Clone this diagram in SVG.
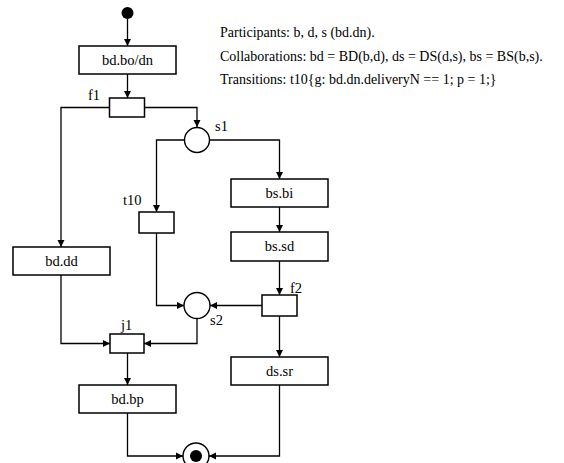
<svg xmlns="http://www.w3.org/2000/svg" width="564" height="463" viewBox="0 0 564 463">
<style>
  .box{fill:#fff;stroke:#000;stroke-width:1.5}
  .place{fill:#fff;stroke:#000;stroke-width:1.4}
  .lbl{font-family:"Liberation Serif","Times New Roman",serif;font-size:14.5px;fill:#000}
  .ctr{text-anchor:middle}
  .note{font-family:"Liberation Serif","Times New Roman",serif;font-size:14px;fill:#000}
  .edge{fill:none;stroke:#000;stroke-width:1.3;marker-end:url(#ah)}
</style>
<defs>
  <marker id="ah" markerWidth="8" markerHeight="8" refX="7" refY="4" orient="auto" markerUnits="userSpaceOnUse">
    <path d="M0,0.5 L7,4 L0,7.5 Z" fill="#000"/>
  </marker>
</defs>
<rect width="564" height="463" fill="#fff"/>

<g id="notes">
  <text class="note" x="220" y="37">Participants: b, d, s (bd.dn).</text>
  <text class="note" x="220" y="61">Collaborations: bd = BD(b,d), ds = DS(d,s), bs = BS(b,s).</text>
  <text class="note" x="220" y="84">Transitions: t10{g: bd.dn.deliveryN == 1; p = 1;}</text>
</g>

<g id="connectors">
  <path class="edge" d="M127.5,19 V46"/>
  <path class="edge" d="M127.5,74 V98"/>
  <path class="edge" d="M109,107.5 H61 V247"/>
  <path class="edge" d="M145,107.5 H197 V127"/>
  <path class="edge" d="M209,140 H279.5 V179"/>
  <path class="edge" d="M185,140 H156.5 V212"/>
  <path class="edge" d="M279.5,207 V232"/>
  <path class="edge" d="M279.5,261 V295"/>
  <path class="edge" d="M262,305.5 H210"/>
  <path class="edge" d="M156.5,233 V305.5 H184"/>
  <path class="edge" d="M279.5,316 V357"/>
  <path class="edge" d="M61,275 V343.5 H110"/>
  <path class="edge" d="M197,318.5 V343.5 H144"/>
  <path class="edge" d="M127.5,353 V385"/>
  <path class="edge" d="M127.5,413 V456 H183"/>
  <path class="edge" d="M279.5,385 V456 H209"/>
</g>

<g id="start"><circle cx="127.5" cy="13" r="6" fill="#000"/></g>

<g id="bd_bo_dn">
  <rect class="box" x="79" y="46" width="97" height="28"/>
  <text class="lbl ctr" x="127.5" y="65">bd.bo/dn</text>
</g>

<g id="f1">
  <rect class="box" x="109.5" y="98" width="35" height="19"/>
  <text class="lbl" x="88" y="100">f1</text>
</g>

<g id="s1">
  <circle class="place" cx="197" cy="140" r="12.5"/>
  <text class="lbl" x="215" y="131">s1</text>
</g>

<g id="bs_bi">
  <rect class="box" x="231" y="179" width="97" height="28"/>
  <text class="lbl ctr" x="279.5" y="198">bs.bi</text>
</g>

<g id="bs_sd">
  <rect class="box" x="231" y="232" width="97" height="29"/>
  <text class="lbl ctr" x="279.5" y="251">bs.sd</text>
</g>

<g id="t10">
  <rect class="box" x="139" y="212" width="35" height="21"/>
  <text class="lbl" x="123" y="205">t10</text>
</g>

<g id="bd_dd">
  <rect class="box" x="13" y="247" width="97" height="28"/>
  <text class="lbl ctr" x="61.5" y="266">bd.dd</text>
</g>

<g id="f2">
  <rect class="box" x="262" y="295" width="35" height="21"/>
  <text class="lbl" x="290" y="293">f2</text>
</g>

<g id="s2">
  <circle class="place" cx="197" cy="305.5" r="13"/>
  <text class="lbl" x="210" y="325">s2</text>
</g>

<g id="j1">
  <rect class="box" x="110" y="334" width="34" height="19"/>
  <text class="lbl" x="121" y="330">j1</text>
</g>

<g id="ds_sr">
  <rect class="box" x="231" y="357" width="97" height="28"/>
  <text class="lbl ctr" x="279.5" y="376">ds.sr</text>
</g>

<g id="bd_bp">
  <rect class="box" x="79" y="385" width="97" height="28"/>
  <text class="lbl ctr" x="127.5" y="404">bd.bp</text>
</g>

<g id="end">
  <circle class="place" cx="196" cy="456" r="13"/>
  <circle cx="196" cy="456" r="6" fill="#000"/>
</g>
</svg>
